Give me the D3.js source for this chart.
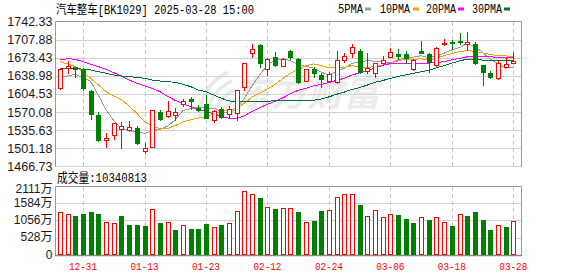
<!DOCTYPE html>
<html><head><meta charset="utf-8">
<script src="https://cdn.jsdelivr.net/npm/d3@7"></script>
<style>html,body{margin:0;padding:0;background:#fff;overflow:hidden}</style>
</head><body>
<svg id="c" width="578" height="276"></svg>
<script>
const title = "汽车整车[BK1029] 2025-03-28 15:00";
const volTitle = "成交量:10340813";
const dates = ["12-26","12-27","12-30","12-31","01-02","01-03","01-06","01-07","01-08","01-09","01-10","01-13","01-14","01-15","01-16","01-17","01-20","01-21","01-22","01-23","01-24","01-27","02-05","02-06","02-07","02-10","02-11","02-12","02-13","02-14","02-17","02-18","02-19","02-20","02-21","02-24","02-25","02-26","02-27","02-28","03-03","03-04","03-05","03-06","03-07","03-10","03-11","03-12","03-13","03-14","03-17","03-18","03-19","03-20","03-21","03-24","03-25","03-26","03-27","03-28"];
const open = [1615.4,1654.8,1655.4,1650.3,1611.0,1564.7,1516.5,1526.0,1538.7,1536.2,
1539.3,1496.8,1504.4,1570.4,1563.4,1565.3,1585.0,1595.8,1578.7,1585.6,
1555.2,1575.5,1566.6,1567.9,1618.6,1682.1,1697.9,1651.6,1674.5,1658.6,
1687.1,1671.3,1630.0,1651.6,1640.8,1628.8,1628.1,1668.7,1682.1,1687.1,
1648.0,1644.0,1663.0,1675.7,1680.8,1680.2,1651.6,1686.5,1680.8,1659.8,
1699.8,1704.2,1705.5,1700.4,1699.2,1659.8,1645.2,1634.5,1656.6,1663.0];
const high = [1653.5,1667.5,1656.7,1653.5,1611.5,1571.0,1529.8,1550.0,1552.0,1553.3,
1543.8,1510.8,1575.0,1574.2,1591.3,1577.4,1594.5,1598.3,1583.7,1602.8,
1574.2,1579.3,1581.8,1612.3,1664.3,1699.8,1699.8,1673.8,1683.9,1672.5,
1688.4,1672.5,1652.9,1656.7,1644.0,1645.9,1687.1,1682.1,1699.8,1689.7,
1682.1,1664.3,1677.0,1691.6,1690.3,1686.5,1670.7,1705.5,1682.1,1693.5,
1708.7,1707.4,1720.0,1722.1,1703.0,1659.8,1648.4,1669.4,1675.6,1685.2];
const low = [1614.0,1644.0,1636.4,1612.3,1556.4,1515.9,1504.4,1518.4,1501.2,1534.2,
1509.5,1493.0,1503.5,1555.2,1561.5,1555.2,1581.8,1575.5,1573.0,1558.3,
1550.7,1558.3,1560.3,1555.2,1612.3,1675.7,1656.7,1640.8,1658.6,1657.9,
1670.6,1625.0,1629.4,1636.4,1618.6,1627.5,1625.0,1666.2,1675.7,1644.0,
1644.0,1637.7,1659.9,1674.5,1671.3,1664.2,1650.3,1683.3,1647.1,1657.9,
1697.3,1690.0,1699.5,1688.4,1661.1,1621.8,1634.5,1633.2,1655.5,1663.0];
const close = [1651.6,1658.6,1651.6,1616.7,1566.0,1517.1,1520.9,1548.8,1543.8,1541.9,
1510.8,1501.9,1574.2,1557.1,1573.0,1571.0,1591.3,1590.7,1574.2,1559.6,
1572.3,1560.3,1575.5,1612.3,1663.0,1689.7,1664.3,1670.6,1660.5,1671.3,
1674.5,1627.5,1651.6,1645.3,1633.8,1642.1,1668.7,1677.0,1693.5,1646.5,
1655.0,1663.0,1669.4,1684.0,1676.9,1673.7,1669.4,1683.3,1665.0,1691.6,
1702.3,1701.1,1704.5,1704.2,1663.0,1645.9,1636.4,1663.0,1661.1,1667.5];
// volume in 万
const volume = [1307,1255,1194,1255,1316,1255,1000,969,1194,918,
918,888,1398,979,1000,765,908,796,796,949,
847,918,969,1337,1949,1857,1735,1459,1408,1429,
1429,1316,1000,1041,1347,1368,1766,1857,1857,1530,
1184,1368,1154,1255,1224,1102,979,1153,1071,1153,
1000,888,1245,1194,1316,1071,765,908,857,1034];
const ma5 = [1637.6,1638.9,1642.0,1636.0,1628.9,1602.0,1574.5,1553.9,1539.3,1534.5,
1533.2,1529.4,1534.5,1537.2,1543.4,1555.4,1573.3,1576.6,1580.0,1577.4,
1577.6,1571.4,1568.4,1576.0,1596.7,1620.2,1641.0,1660.0,1669.6,1671.3,
1668.2,1660.9,1657.1,1654.0,1646.5,1640.1,1648.3,1653.4,1663.0,1665.6,
1668.1,1667.0,1665.5,1663.6,1669.7,1673.4,1674.7,1677.5,1673.7,1676.6,
1682.3,1688.7,1692.9,1700.7,1695.0,1683.7,1670.8,1662.5,1653.9,1654.8];
const ma10 = [1666.2,1661.7,1656.7,1647.1,1634.4,1621.8,1609.1,1600.8,1594.0,1581.7,
1567.6,1552.0,1544.2,1538.3,1538.9,1544.3,1551.4,1555.6,1558.6,1560.4,
1566.5,1572.4,1572.5,1578.0,1587.0,1598.9,1606.2,1614.2,1622.8,1634.0,
1644.2,1650.9,1658.5,1661.8,1658.9,1654.2,1654.6,1655.2,1658.5,1656.1,
1654.1,1657.7,1659.4,1663.3,1667.6,1670.8,1670.8,1671.5,1668.6,1673.1,
1677.9,1681.7,1685.2,1687.2,1685.8,1683.0,1679.7,1677.7,1677.3,1674.9];
const ma20 = [1669.3,1671.9,1670.6,1666.2,1661.1,1656.7,1651.6,1645.2,1638.9,1631.3,
1624.9,1619.9,1615.4,1609.1,1600.0,1592.5,1586.0,1580.5,1575.0,1571.0,
1567.1,1562.2,1558.4,1558.1,1563.0,1571.6,1578.8,1584.9,1590.7,1597.2,
1605.4,1611.6,1615.5,1619.9,1623.0,1626.5,1630.4,1634.7,1640.7,1645.0,
1649.2,1654.3,1659.0,1662.6,1663.3,1662.5,1662.7,1663.4,1663.6,1664.6,
1666.0,1669.7,1672.3,1675.3,1676.7,1676.9,1675.3,1674.6,1673.0,1674.0];
const ma30 = [1653.5,1653.5,1653.5,1651.6,1650.3,1647.1,1644.0,1640.8,1638.9,1637.6,
1636.4,1634.4,1631.3,1629.4,1628.1,1626.8,1623.0,1618.6,1612.2,1609.1,
1602.7,1596.4,1591.5,1590.0,1590.0,1590.0,1590.5,1591.0,1591.5,1592.0,
1592.8,1591.7,1591.7,1592.7,1595.0,1599.1,1604.1,1608.3,1613.3,1616.8,
1621.6,1627.0,1630.2,1634.4,1637.8,1641.3,1643.9,1647.0,1650.0,1654.4,
1658.7,1663.4,1667.7,1670.8,1670.8,1669.3,1668.4,1668.1,1668.2,1668.0];
const priceTicks = [1742.33,1707.88,1673.43,1638.98,1604.53,1570.08,1535.63,1501.18,1466.73];
const volTicks = [2111,1584,1056,528,0];
const volTickLabels = ["2111万","1584万","1056万","528万","0"];
const xTickLabels = ["12-31","01-13","01-23","02-12","02-24","03-06","03-18","03-28"];
const legendNames = ["5PMA","10PMA","20PMA","30PMA"];

const colors = {up:"#ff0000", down:"#008000", ma:["#9a9a9a","#f5a300","#ff00ff","#00703a"]};

const svg = d3.select("#c");
const L = 55, R = 522;
const x = d3.scalePoint().domain(dates).range([60, 513.3]);
const y = d3.scaleLinear().domain([1466.73, 1742.33]).range([166.4, 21.67]);
const yv = d3.scaleLinear().domain([0, 2111]).range([255, 186]);

// title
svg.append("text").attr("x",56).attr("y",13.5).text(title)
  .attr("font-family","'Liberation Mono','Noto Sans CJK SC',monospace").attr("font-size",12.5)
  .attr("textLength",198).attr("lengthAdjust","spacingAndGlyphs").attr("fill","#000");
// legend
const legX = [338,380,426,472], legW = [25,30,30,30], legBox = [365,413,458,504];
legendNames.forEach((n,i)=>{
  svg.append("text").attr("x",legX[i]).attr("y",12.5).text(n)
    .attr("font-family","'Liberation Mono',monospace").attr("font-size",12)
    .attr("textLength",legW[i]).attr("lengthAdjust","spacingAndGlyphs").attr("fill","#000");
  svg.append("rect").attr("x",legBox[i]).attr("y",7.5).attr("width",6).attr("height",3).attr("fill",colors.ma[i]);
});

// watermark
const wm = svg.append("g").attr("fill","none").attr("stroke","#e9e9e9").attr("stroke-width",3.5);
["M200 118 Q200 86 228 72","M207 118 Q208 92 232 81","M214 118 Q216 98 235 90","M221 118 Q224 104 237 99"]
  .forEach(p=>wm.append("path").attr("d",p));
svg.append("text").attr("x",234).attr("y",106).text("东方财富")
  .attr("font-family","'Noto Sans CJK SC'").attr("font-size",36).attr("font-weight","bold")
  .attr("font-style","italic").attr("fill","#ebebeb").attr("textLength",146);

// grids
const grid = svg.append("g");
priceTicks.slice(1).forEach(t=>{
  const yy = Math.round(y(t))+0.5;
  grid.append("line").attr("x1",L).attr("x2",R).attr("y1",yy).attr("y2",yy).attr("stroke","#d2d2d2");
});
volTicks.slice(1,4).forEach(t=>{
  const yy = Math.round(yv(t))+0.5;
  grid.append("line").attr("x1",L).attr("x2",R).attr("y1",yy).attr("y2",yy).attr("stroke","#d2d2d2");
});
xTickLabels.forEach(d=>{
  const xx = Math.round(x(d))+0.5;
  grid.append("line").attr("x1",xx).attr("x2",xx).attr("y1",22).attr("y2",166).attr("stroke","#c8c8c8").attr("stroke-dasharray","4,3");
  grid.append("line").attr("x1",xx).attr("x2",xx).attr("y1",187).attr("y2",255).attr("stroke","#c8c8c8").attr("stroke-dasharray","4,3");
});

// frames
const fr = svg.append("g").attr("stroke","#999").attr("fill","none");
fr.append("path").attr("d",`M${L+0.5},166.5 V21.5 H${R-0.5} V166.5`);
fr.append("path").attr("d",`M${L+0.5},255.5 V186.5 H${R-0.5} V255.5`);
fr.append("line").attr("x1",L).attr("x2",R).attr("y1",255.5).attr("y2",255.5).attr("stroke","#888").attr("stroke-width",1.5);

// y labels
const lblFont = "'Liberation Sans',Arial,sans-serif";
priceTicks.forEach(t=>{
  svg.append("text").attr("x",52.5).attr("y",y(t)+4.4).attr("text-anchor","end").text(t.toFixed(2))
    .attr("font-family",lblFont).attr("font-size",12.5).attr("fill","#1a1a1a");
});
volTicks.forEach((t,i)=>{
  const yy = i===0 ? 189 : yv(t)-0.6;
  svg.append("text").attr("x",52.5).attr("y",yy+4.2).attr("text-anchor","end").text(volTickLabels[i])
    .attr("font-family",lblFont+",'Noto Sans CJK SC'").attr("font-size",12).attr("fill","#1a1a1a");
});
// x labels
xTickLabels.forEach(d=>{
  svg.append("text").attr("x",x(d)).attr("y",270).attr("text-anchor","middle").text(d)
    .attr("font-family","'Liberation Mono',monospace").attr("font-size",11.5).attr("fill","#ff0000")
    .attr("textLength",28).attr("lengthAdjust","spacingAndGlyphs");
});
// volume title
svg.append("text").attr("x",57).attr("y",182).text(volTitle)
  .attr("font-family","'Liberation Mono','Noto Sans CJK SC',monospace").attr("font-size",13)
  .attr("textLength",90).attr("lengthAdjust","spacingAndGlyphs").attr("fill","#000");

// MA lines
const maG = svg.append("g");
[ma5,ma10,ma20,ma30].forEach((arr,k)=>{
  const line = d3.line().x((v,i)=>x(dates[i])).y(v=>y(v));
  maG.append("path").attr("d",line(arr)).attr("fill","none").attr("stroke",colors.ma[k])
    .attr("stroke-width",1).attr("shape-rendering","crispEdges");
});

// candles
const cg = svg.append("g");
dates.forEach((d,i)=>{
  const cx = Math.round(x(d));
  const up = close[i] >= open[i];
  const col = up ? colors.up : colors.down;
  const yH = Math.round(y(high[i])), yL = Math.round(y(low[i]));
  const yT = Math.round(y(Math.max(open[i],close[i]))), yB = Math.round(y(Math.min(open[i],close[i])));
  cg.append("line").attr("x1",cx+0.5).attr("x2",cx+0.5).attr("y1",yH).attr("y2",yL+1).attr("stroke",col);
  if (up) {
    cg.append("rect").attr("x",cx-2+0.5).attr("y",yT+0.5).attr("width",4).attr("height",Math.max(yB-yT,1))
      .attr("fill","#fff").attr("stroke",col);
  } else {
    cg.append("rect").attr("x",cx-2).attr("y",yT).attr("width",5).attr("height",Math.max(yB-yT+1,1)).attr("fill",col);
  }
});

// volume bars (colour by change vs previous close)
const vg = svg.append("g");
dates.forEach((d,i)=>{
  const cx = Math.round(x(d));
  const up = i===0 ? close[i]>=open[i] : close[i] >= close[i-1];
  const top = Math.round(yv(volume[i]));
  if (up) {
    vg.append("rect").attr("x",cx-2+0.5).attr("y",top+0.5).attr("width",4).attr("height",255-top-1)
      .attr("fill","#fff").attr("stroke",colors.up);
  } else {
    vg.append("rect").attr("x",cx-2).attr("y",top).attr("width",5).attr("height",255-top).attr("fill",colors.down);
  }
});
</script>
</body></html>
